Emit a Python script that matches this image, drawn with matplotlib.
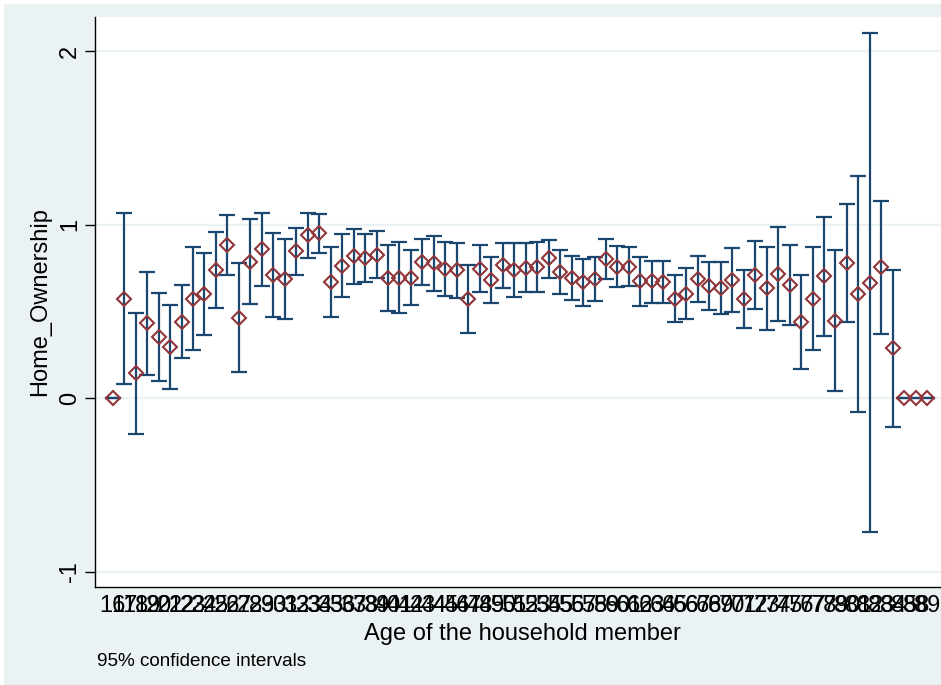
import matplotlib.pyplot as plt
from matplotlib.patches import Rectangle
import numpy as np

# Age levels shown on the x axis
ages = [str(a) for a in range(16, 85)] + ["85", "88", "89"]

# Predictive margins of home ownership by age
margin = [
    0.000, 0.572, 0.142, 0.430, 0.353, 0.296, 0.440, 0.572, 0.599, 0.736,
    0.882, 0.463, 0.786, 0.857, 0.707, 0.684, 0.845, 0.939, 0.949, 0.667,
    0.761, 0.818, 0.805, 0.826, 0.694, 0.694, 0.694, 0.786, 0.780, 0.745,
    0.738, 0.572, 0.745, 0.680, 0.767, 0.740, 0.749, 0.757, 0.805, 0.728,
    0.690, 0.667, 0.684, 0.801, 0.757, 0.757, 0.676, 0.674, 0.669, 0.572,
    0.599, 0.688, 0.646, 0.634, 0.680, 0.569, 0.709, 0.632, 0.715, 0.651,
    0.437, 0.572, 0.703, 0.446, 0.776, 0.599, 0.665, 0.753, 0.286, 0.000,
    0.000, 0.000,
]
ci_low = [
    0.000, 0.079, -0.207, 0.133, 0.100, 0.052, 0.232, 0.275, 0.365, 0.519,
    0.711, 0.148, 0.540, 0.647, 0.465, 0.455, 0.711, 0.805, 0.838, 0.465,
    0.580, 0.659, 0.670, 0.690, 0.503, 0.492, 0.536, 0.649, 0.619, 0.588,
    0.578, 0.376, 0.609, 0.549, 0.634, 0.580, 0.613, 0.613, 0.690, 0.599,
    0.565, 0.532, 0.559, 0.684, 0.642, 0.647, 0.532, 0.549, 0.546, 0.438,
    0.453, 0.555, 0.507, 0.482, 0.496, 0.402, 0.514, 0.394, 0.444, 0.422,
    0.165, 0.277, 0.357, 0.042, 0.440, -0.079, -0.772, 0.367, -0.165, 0.000,
    0.000, 0.000,
]
ci_high = [
    0.000, 1.065, 0.492, 0.726, 0.607, 0.536, 0.649, 0.868, 0.838, 0.955,
    1.055, 0.780, 1.030, 1.065, 0.949, 0.916, 0.978, 1.068, 1.059, 0.872,
    0.943, 0.972, 0.943, 0.961, 0.882, 0.901, 0.853, 0.915, 0.934, 0.897,
    0.895, 0.768, 0.882, 0.811, 0.892, 0.895, 0.895, 0.901, 0.911, 0.853,
    0.818, 0.799, 0.814, 0.915, 0.878, 0.868, 0.814, 0.791, 0.791, 0.707,
    0.751, 0.818, 0.786, 0.786, 0.863, 0.736, 0.906, 0.872, 0.987, 0.881,
    0.711, 0.868, 1.045, 0.853, 1.118, 1.281, 2.102, 1.137, 0.738, 0.000,
    0.000, 0.000,
]

NAVY = "#1A476F"
CRANBERRY = "#90353B"
REGION = "#EAF2F3"

plt.rcParams["font.family"] = ["Liberation Sans", "DejaVu Sans"]

W, H = 941, 685
fig = plt.figure(figsize=(W / 100, H / 100), dpi=100, facecolor="white")
fig.patches.append(Rectangle((4 / W, 0), 1, 1 - 4 / H, transform=fig.transFigure,
                             facecolor=REGION, edgecolor="none", zorder=-10))

ax = fig.add_axes([95 / W, 1 - 587 / H, 1 - 95 / W + 0.01, (587 - 17) / H])
ax.set_facecolor("white")

x = np.arange(len(ages))
m = np.array(margin)
lo = np.array(ci_low)
hi = np.array(ci_high)

ax.errorbar(x, m, yerr=[m - lo, hi - m], fmt="none", ecolor=NAVY,
            elinewidth=1.6, capsize=5.5, capthick=1.6, zorder=2)
ax.plot(x, m, linestyle="none", marker="D", markersize=7.5,
        markerfacecolor="none", markeredgecolor=CRANBERRY,
        markeredgewidth=1.5, zorder=3)

ax.set_xlim(-1.54, 72.2 + 0.01 * W / 11.47)
ax.set_ylim(-1.089, 2.196)

ax.set_yticks([-1, 0, 1, 2])
ax.set_yticklabels(["-1", "0", "1", "2"], rotation=90, va="center")
ax.set_xticks(x)
ax.set_xticklabels(ages)

ax.yaxis.grid(True, color=REGION, linewidth=1.6)
ax.set_axisbelow(True)

for side in ("top", "right"):
    ax.spines[side].set_visible(False)
for side in ("left", "bottom"):
    ax.spines[side].set_color("black")
    ax.spines[side].set_linewidth(1.0)

ax.tick_params(axis="y", length=7, width=1.0, pad=3, labelsize=17)
ax.tick_params(axis="x", length=0, pad=6, labelsize=17)

ax.set_ylabel("Home_Ownership", fontsize=17)
ax.yaxis.set_label_coords(-0.0508, 0.5)
ax.set_xlabel("Age of the household member", fontsize=17)
ax.xaxis.set_label_coords(0.5, -0.063)

fig.text(97 / W, 1 - 662 / H, "95% confidence intervals", fontsize=13.6,
         va="center", ha="left")

fig.savefig("out.png", dpi=100, facecolor=fig.get_facecolor())
